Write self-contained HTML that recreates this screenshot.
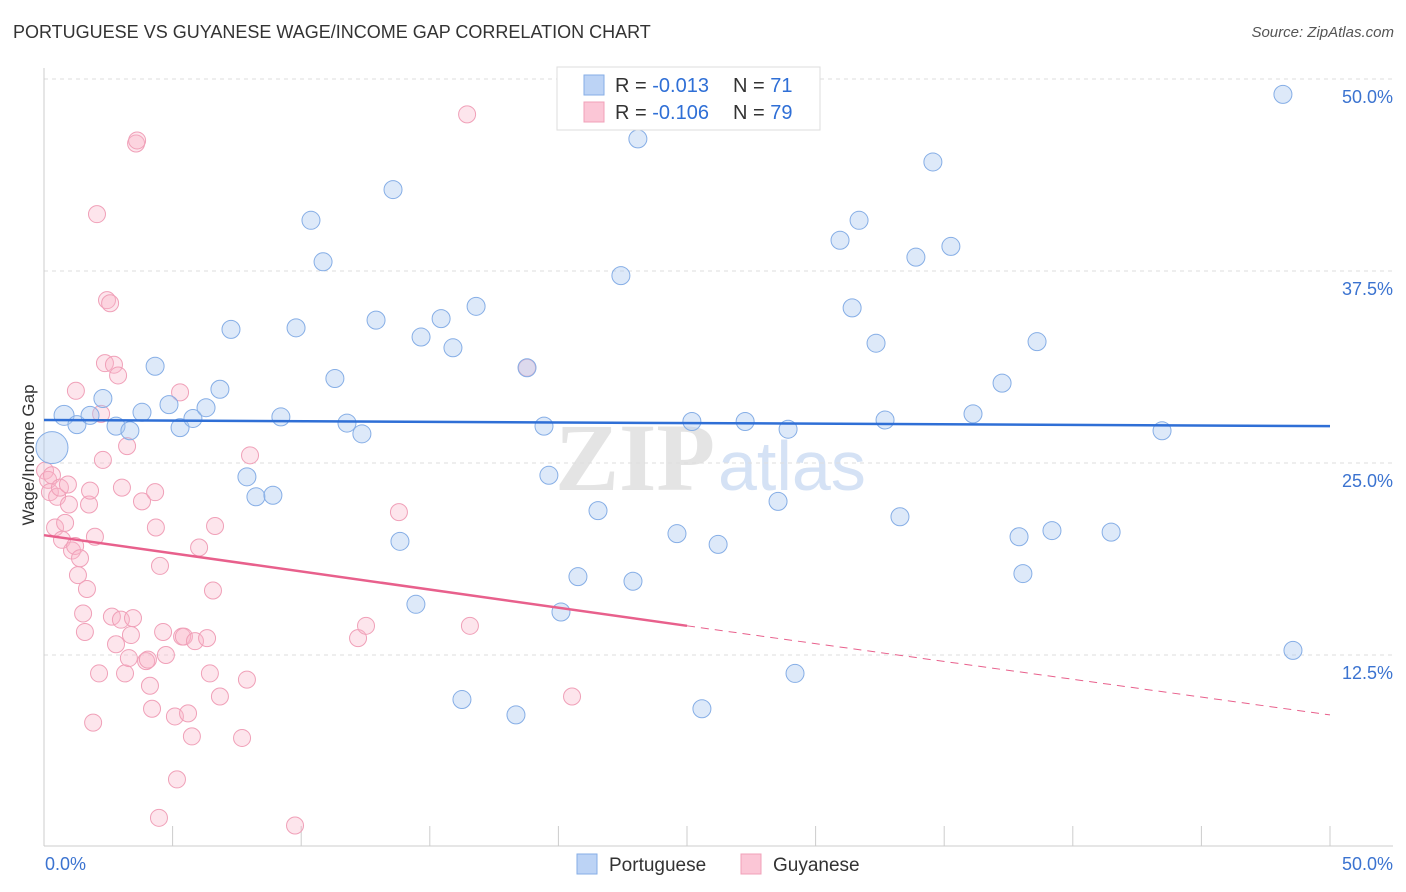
<!DOCTYPE html>
<html><head><meta charset="utf-8"><style>
body{margin:0;background:#fff;font-family:"Liberation Sans",sans-serif;}
#wrap{position:relative;width:1406px;height:892px;overflow:hidden;}
.t{position:absolute;white-space:nowrap;}
</style></head><body>
<div id="wrap">
<div class="t" style="left:13px;top:22px;font-size:18px;color:#333;">PORTUGUESE VS GUYANESE WAGE/INCOME GAP CORRELATION CHART</div>
<div class="t" style="right:12px;top:24px;font-size:15px;color:#555;font-style:italic;">Source: ZipAtlas.com</div>
<svg id="svg" width="1406" height="892" style="position:absolute;left:0;top:0"></svg>
</div>
<script>
const yTicks=[12.5,25,37.5,50];
const blueX=[0.78,0.31,1.28,1.79,2.29,2.80,3.34,3.81,4.32,4.86,5.29,5.79,6.30,6.84,7.27,7.89,8.24,8.90,9.21,9.80,10.38,10.85,11.31,11.78,12.36,12.91,13.57,13.84,14.46,14.66,15.44,15.90,16.25,16.80,18.35,18.78,19.44,19.63,20.10,20.76,21.54,22.43,22.90,23.09,24.61,25.19,25.58,26.21,27.26,28.54,28.93,29.20,30.95,31.42,31.69,32.35,32.70,33.28,33.90,34.56,35.26,36.12,37.25,37.91,38.06,38.61,39.19,41.49,43.47,48.17,48.56];
const blueY=[28.1,26.0,27.5,28.1,29.2,27.4,27.1,28.3,31.3,28.8,27.3,27.9,28.6,29.8,33.7,24.1,22.8,22.9,28.0,33.8,40.8,38.1,30.5,27.6,26.9,34.3,42.8,19.9,15.8,33.2,34.4,32.5,9.6,35.2,8.6,31.2,27.4,24.2,15.3,17.6,21.9,37.2,17.3,46.1,20.4,27.7,9.0,19.7,27.7,22.5,27.2,11.3,39.5,35.1,40.8,32.8,27.8,21.5,38.4,44.6,39.1,28.2,30.2,20.2,17.8,32.9,20.6,20.5,27.1,49.0,12.8];
const blueBig=[1,0];
const pinkX=[0.04,0.16,0.23,0.31,0.43,0.51,0.62,0.70,0.82,0.93,0.97,1.09,1.21,1.24,1.32,1.40,1.52,1.59,1.67,1.75,1.79,1.91,1.98,2.06,2.14,2.22,2.29,2.37,2.45,2.57,2.64,2.72,2.80,2.88,2.99,3.03,3.15,3.23,3.30,3.38,3.46,3.58,3.62,3.81,3.97,4.04,4.12,4.20,4.32,4.35,4.51,4.63,4.74,5.09,5.17,5.29,5.37,5.44,5.60,5.75,5.87,6.03,6.34,6.45,6.57,6.65,6.84,7.70,7.89,8.01,9.76,12.21,12.52,13.80,16.56,18.78,20.53,4.47,16.45];
const pinkY=[24.5,23.9,23.1,24.2,20.8,22.8,23.4,20.0,21.1,23.6,22.3,19.3,19.6,29.7,17.7,18.8,15.2,14.0,16.8,22.3,23.2,8.1,20.2,41.2,11.3,28.2,25.2,31.5,35.6,35.4,15.0,31.4,13.2,30.7,14.8,23.4,11.3,26.1,12.3,13.8,14.9,45.8,46.0,22.5,12.1,12.2,10.5,9.0,23.1,20.8,18.3,14.0,12.5,8.5,4.4,29.6,13.7,13.7,8.7,7.2,13.4,19.5,13.6,11.3,16.7,20.9,9.8,7.1,10.9,25.5,1.4,13.6,14.4,21.8,14.4,31.2,9.8,1.9,47.7];
const blueLine=[27.8,27.4];
const pinkLine=[20.3,14.4,8.6];
const x0=44,x1=1330,yb=847,yt=79;
const X=v=>x0+(v/50)*(x1-x0);
const Y=v=>yb-(v/50)*(yb-yt);
const svg=document.getElementById('svg');
const NS='http://www.w3.org/2000/svg';
function mk(t,a,p){const e=document.createElementNS(NS,t);for(const k in a)e.setAttribute(k,a[k]);(p||svg).appendChild(e);return e;}
let wm=mk('text',{x:635,y:490,'font-size':96,'font-family':'Liberation Serif,serif','font-weight':'bold',fill:'#e4e4e4','text-anchor':'middle'});wm.textContent='ZIP';


let wm2=mk('text',{x:718,y:490,'font-size':70,'font-family':'Liberation Sans,sans-serif',fill:'#d5e2f5'});wm2.textContent='atlas';


yTicks.forEach(v=>{
 let g=mk('line',{x1:x0,x2:1393,y1:Y(v),y2:Y(v),stroke:'#dedede','stroke-dasharray':'4,4'});
 
 
 let t=mk('text',{x:1393,y:Y(v)+24,'font-size':18,fill:'#3b73d0','text-anchor':'end'});t.textContent=v.toFixed(1)+'%';
 
 
});
let ax=mk('line',{x1:x0,x2:1393,y1:846,y2:846,stroke:'#ccc'});


let ay=mk('line',{x1:x0,x2:x0,y1:68,y2:846,stroke:'#ccc'});


for(let i=1;i<=10;i++){let tk=mk('line',{x1:X(i*5),x2:X(i*5),y1:826,y2:846,stroke:'#ccc'});
 
 }
let xl=mk('text',{x:45,y:870,'font-size':18,fill:'#3b73d0'});xl.textContent='0.0%';


let xr=mk('text',{x:1393,y:870,'font-size':18,fill:'#3b73d0','text-anchor':'end'});xr.textContent='50.0%';


let yl=mk('text',{x:34,y:455,'font-size':17,fill:'#333','text-anchor':'middle',transform:'rotate(-90 34 455)'});yl.textContent='Wage/Income Gap';


pinkX.forEach((v,i)=>{let c=mk('circle',{cx:X(v),cy:Y(pinkY[i]),r:8.5,fill:'rgba(248,180,200,0.35)',stroke:'#f0a0b8','stroke-width':1});
 
 });
blueX.forEach((v,i)=>{let r=i===blueBig[0]?16:(i===blueBig[1]?10:9);
 let c=mk('circle',{cx:X(v),cy:Y(blueY[i]),r:r,fill:'rgba(170,200,240,0.4)',stroke:'#86aee6','stroke-width':1});
 
 });
let bl=mk('line',{x1:X(0),x2:X(50),y1:Y(blueLine[0]),y2:Y(blueLine[1]),stroke:'#2f6fd6','stroke-width':2.5});


let pl=mk('line',{x1:X(0),x2:X(25),y1:Y(pinkLine[0]),y2:Y(pinkLine[1]),stroke:'#e8608c','stroke-width':2.5});


let pd=mk('line',{x1:X(25),x2:X(50),y1:Y(pinkLine[1]),y2:Y(pinkLine[2]),stroke:'#e8608c','stroke-width':1,'stroke-dasharray':'8,6'});


let lb=mk('rect',{x:557,y:67,width:263,height:63,fill:'#fff',stroke:'#ddd'});


[[0,'#bcd3f5','#86aee6','-0.013','71'],[1,'#fbc6d6','#f0a0b8','-0.106','79']].forEach(r=>{
 const yy=75+r[0]*27;
 let s=mk('rect',{x:584,y:yy,width:20,height:20,fill:r[1],stroke:r[2]});
 
 
 let t=mk('text',{x:615,y:yy+17,'font-size':20,fill:'#333'});
 t.innerHTML='R = <tspan fill="#2f6fd6">'+r[3]+'</tspan><tspan x="733">N = </tspan><tspan fill="#2f6fd6">'+r[4]+'</tspan>';
 
 
});
[[577,'#bcd3f5','#86aee6','Portuguese'],[741,'#fbc6d6','#f0a0b8','Guyanese']].forEach(r=>{
 let s=mk('rect',{x:r[0],y:854,width:20,height:20,fill:r[1],stroke:r[2]});
 
 
 let t=mk('text',{x:r[0]+32,y:871,'font-size':19,fill:'#333'});t.textContent=r[3];
 
 
});
</script>
</body></html>
